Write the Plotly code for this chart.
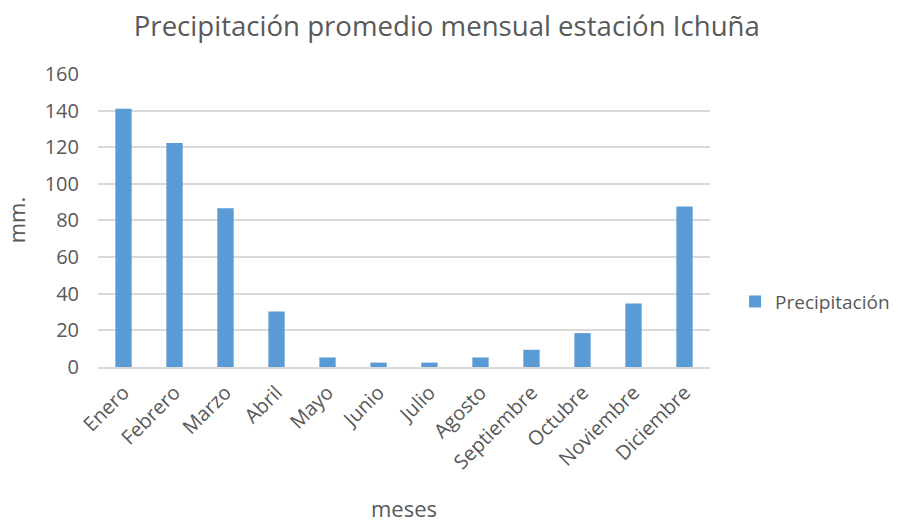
import plotly.graph_objects as go

meses = ["Enero", "Febrero", "Marzo", "Abril", "Mayo", "Junio", "Julio",
         "Agosto", "Septiembre", "Octubre", "Noviembre", "Diciembre"]
precipitacion = [141.0, 122.3, 86.7, 30.3, 5.2, 2.4, 2.4, 5.2, 9.4, 18.5, 34.7, 87.6]
y_ticks = [0, 20, 40, 60, 80, 100, 120, 140, 160]

font_fam = "'Open Sans', Calibri, 'Liberation Sans', sans-serif"
gray = "#595959"

fig = go.Figure()
fig.add_trace(go.Bar(
    x=meses, y=precipitacion, name="Precipitación",
    marker=dict(color="#5B9BD5", line=dict(color="#5B9BD5", width=0)),
    width=0.32,
))

fig.update_layout(
    width=899, height=525,
    margin=dict(l=98, r=189, t=73, b=158, autoexpand=False),
    paper_bgcolor="white", plot_bgcolor="white",
    font=dict(family=font_fam, color=gray, size=20),
    title=dict(text="Precipitación promedio mensual estación Ichuña",
               x=0.497, xanchor="center", xref="container",
               y=0.95, yref="container", yanchor="middle",
               font=dict(size=27.6, color=gray, family=font_fam)),
    showlegend=True,
    legend=dict(x=1.041, xanchor="left", y=0.222, yanchor="middle",
                font=dict(size=19, color=gray), itemwidth=30,
                bgcolor="rgba(0,0,0,0)"),
)
fig.update_xaxes(
    tickangle=-45, tickfont=dict(size=20, color=gray),
    showline=True, linecolor="#D9D9D9", linewidth=2,
    showgrid=False, ticklabelstandoff=4,
    title=dict(text="meses", font=dict(size=22, color=gray), standoff=28),
)
fig.update_yaxes(
    range=[0, 160.5], tickvals=y_ticks, tickfont=dict(size=20, color=gray),
    showgrid=True, gridcolor="#D9D9D9", gridwidth=2,
    zeroline=False, showline=False, ticks="", ticklen=0,
    ticklabelstandoff=18,
    title=dict(text="mm.", font=dict(size=22, color=gray), standoff=12),
)

fig.write_html("out.html")
